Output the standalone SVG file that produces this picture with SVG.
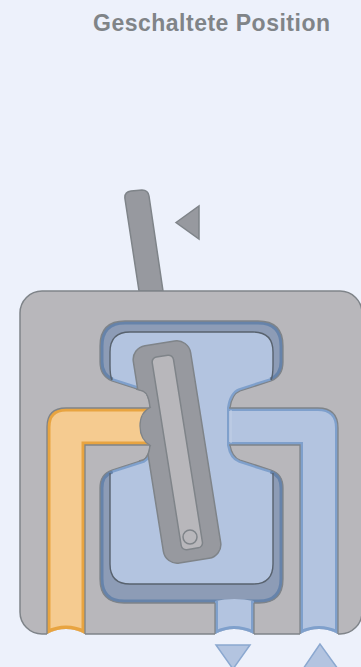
<svg xmlns="http://www.w3.org/2000/svg" width="361" height="667" viewBox="0 0 361 667">
<style>
.body{fill:#b8b7bb;stroke:#7f8489;stroke-width:1.5}
.line{fill:none;stroke:#7f8489;stroke-width:1.3}
.light{fill:#b3c4e0}
.band{fill:none;stroke:#7fa0cc;stroke-width:6}
.lobe{fill:none;stroke:#6683aa;stroke-width:7}
.oband{fill:none;stroke:#e8a440;stroke-width:7}
.dark{fill:none;stroke:#58626e;stroke-width:1.4}
.lever{fill:#97999f;stroke:#7f8489;stroke-width:1.5}
.slot{fill:#b8b7bb;stroke:#7f8489;stroke-width:1.5}
.bg{fill:#edf1fb}
.mark{fill:#b3c4e0;stroke:#8ba8d0;stroke-width:1.5}
text{font-family:"Liberation Sans",Arial,sans-serif;font-weight:700;font-size:23px;fill:#808488}
</style>
<defs>
<path id="ch" d="M100,346Q100,321 125,321H258Q283,321 283,346V362Q283,376 271,381L240,391Q232,394 230,408V445Q232,457 240,460L271,470Q283,474 283,488V579Q283,603 259,603H124Q100,603 100,579V488Q100,474 112,470L143,460Q149,457 150,445V408Q149,394 143,391L112,381Q100,376 100,362Z"/>
<path id="or" d="M47,634V427Q47,408 66,408H150V445H85V634Q76,629 66,629Q56,629 47,634Z"/>
<path id="bl" d="M229,408H318Q338,408 338,428V634Q329,629 319,629Q309,629 300,634V445H229Z"/>
<path id="ex" d="M215,601Q234,597 254,601V634Q244,629 234,629Q225,629 215,634Z"/>
<clipPath id="cch"><use href="#ch"/></clipPath>
<clipPath id="cor"><use href="#or"/></clipPath>
<clipPath id="cbl"><use href="#bl"/></clipPath>
<clipPath id="cex"><use href="#ex"/></clipPath>
</defs>
<rect width="361" height="667" class="bg"/>
<text x="93" y="31" textLength="237" lengthAdjust="spacing">Geschaltete Position</text>
<g id="handle">
<path class="lever" d="M139,291L125,199Q124,192 131,191L142,190Q148,190 149,196L163,291Z"/>
</g>
<g id="direction-mark"><path fill="#97999f" stroke="#7f8489" stroke-width="1.5" d="M176,222.500L199,206V239Z"/></g>
<g id="housing"><rect class="body" x="20" y="291" width="342" height="343" rx="22"/></g>
<g id="chamber">
<use href="#ch" fill="#8d9cb6"/>
<path class="light" d="M110,352Q110,332 130,332H253Q273,332 273,352V365Q273,376 271,381L240,391Q232,394 230,408V445Q232,457 240,460L271,470Q273,472 273,480V564Q273,584 253,584H130Q110,584 110,564V480Q110,472 112,470L143,460Q149,457 150,445V408Q149,394 143,391L112,381Q110,376 110,365Z"/>
<use href="#ch" class="band" clip-path="url(#cch)"/>
<path class="lobe" clip-path="url(#cch)" d="M112,381Q100,376 100,362V346Q100,321 125,321H258Q283,321 283,346V362Q283,376 271,381"/>
<path class="lobe" clip-path="url(#cch)" d="M112,470Q100,474 100,488V579Q100,603 124,603H259Q283,603 283,579V488Q283,474 271,470"/>
<use href="#ch" class="line"/>
<path class="dark" d="M112,380Q110,376 110,365V352Q110,332 130,332H253Q273,332 273,352V365Q273,376 271,380"/>
<path class="dark" d="M110,473V564Q110,584 130,584H253Q273,584 273,564V473"/>
</g>
<g id="channels">
<path class="bg" d="M47,635V634Q56,629 66,629Q76,629 85,634V635Z"/>
<path class="bg" d="M215,635V634Q225,629 234,629Q244,629 254,634V635Z"/>
<path class="bg" d="M300,635V634Q309,629 319,629Q329,629 338,634V635Z"/>
<g id="pressure-port">
<use href="#or" fill="#f5cb90"/>
<path class="oband" clip-path="url(#cor)" d="M150,408H66Q47,408 47,427V634Q56,629 66,629Q76,629 85,634V445H150"/>
<path class="line" d="M150,408H66Q47,408 47,427V634M85,634V445H150"/>
</g>
<g id="work-port">
<use href="#bl" class="light"/>
<path class="band" clip-path="url(#cbl)" d="M229,408H318Q338,408 338,428V634Q329,629 319,629Q309,629 300,634V445H229"/>
<path class="line" d="M229,408H318Q338,408 338,428V634M300,634V445H229"/>
<path fill="none" stroke="#c2d0e6" stroke-width="1" d="M231,410V443"/>
</g>
<g id="exhaust-port">
<use href="#ex" class="light"/>
<path class="band" clip-path="url(#cex)" d="M215,601V634Q225,629 234,629Q244,629 254,634V601"/>
<path class="line" d="M215,603V634M254,603V634"/>
</g>
</g>
<g id="lever">
<g clip-path="url(#cch)">
<g transform="rotate(-9 177 452)">
<rect class="lever" x="148" y="342" width="58" height="220" rx="14"/>
<rect class="slot" x="166.500" y="355" width="21.500" height="195" rx="5"/>
</g>
</g>
<path fill="#97999f" d="M151,407Q140,412 140,426Q140,440 151,446Z"/>
<path class="line" d="M151,407Q140,412 140,426Q140,440 151,446"/>
<path class="line" d="M136,389L143,391Q149,394 150,407M150,446Q149,457 143,460L139,461"/>
<circle cx="190" cy="537" r="7" fill="#b8b7bb" stroke="#7f8489" stroke-width="1.5"/>
</g>
<g id="arrow-down"><path class="mark" d="M216,645H250L233,669Z"/></g>
<g id="arrow-up"><path class="mark" d="M320,644L303,669H338Z"/></g>
</svg>
